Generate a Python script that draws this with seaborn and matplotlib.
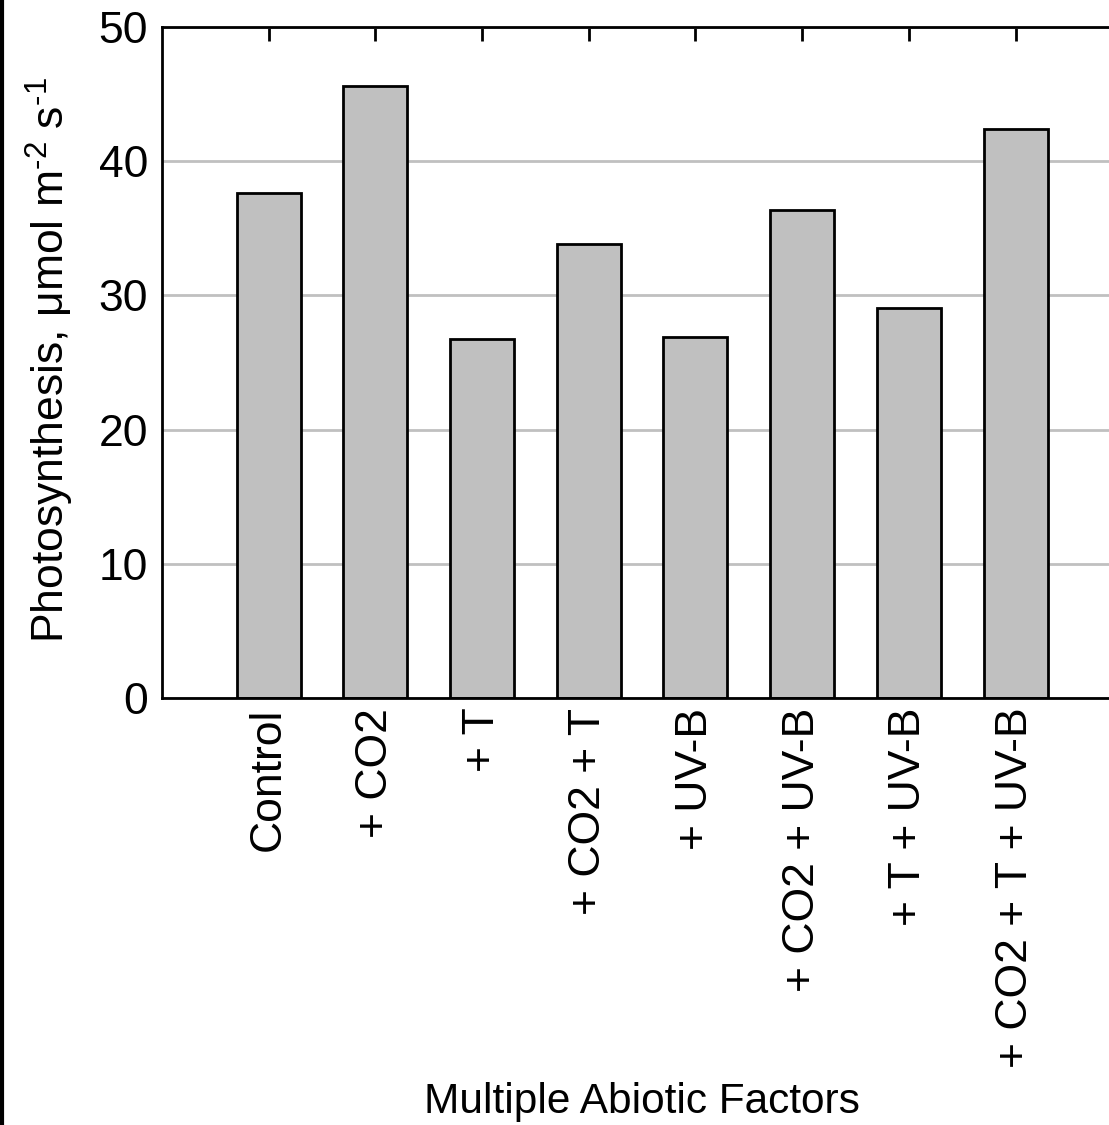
import pandas as pd
import matplotlib
matplotlib.use("Agg")
import matplotlib.pyplot as plt
from matplotlib.lines import Line2D
import seaborn as sns

# data
treatments = ["Control", "+ CO2", "+ T", "+ CO2 + T", "+ UV-B",
              "+ CO2 + UV-B", "+ T + UV-B", "+ CO2 + T + UV-B"]
photosynthesis = [37.65, 45.63, 26.73, 33.8, 26.88, 36.34, 29.04, 42.37]
y_ticks = [0, 10, 20, 30, 40, 50]

df = pd.DataFrame({"Treatment": treatments, "Photosynthesis": photosynthesis})

sns.set_style("white")
plt.rcParams["font.family"] = ["Liberation Sans", "DejaVu Sans"]
plt.rcParams["mathtext.fontset"] = "custom"
plt.rcParams["mathtext.rm"] = "Liberation Sans"
plt.rcParams["mathtext.it"] = "Liberation Sans"
plt.rcParams["mathtext.default"] = "regular"
plt.rcParams["text.color"] = "black"
plt.rcParams["axes.labelcolor"] = "black"
plt.rcParams["xtick.color"] = "black"
plt.rcParams["ytick.color"] = "black"

fig = plt.figure(figsize=(11.09, 11.25), dpi=100)
ax = fig.add_axes([0.146, 0.3796, 0.866, 0.5964])

ax.yaxis.grid(True, color="#c0c0c0", linewidth=2)
ax.set_axisbelow(True)

sns.barplot(data=df, x="Treatment", y="Photosynthesis", order=treatments,
            color="#c0c0c0", saturation=1, edgecolor="black", linewidth=2,
            width=0.6, ax=ax)

ax.set_xlim(-1, len(treatments))
ax.set_ylim(0, 50)
ax.set_yticks(y_ticks)
ax.tick_params(axis="y", direction="in", length=10, width=2, labelsize=32, pad=10)
ax.tick_params(axis="x", direction="in", length=10, width=2, top=True, bottom=False,
               labelsize=32, labelrotation=90, pad=7)
for s in ax.spines.values():
    s.set_linewidth(2)
    s.set_color("black")

ax.set_xlabel("Multiple Abiotic Factors", fontsize=30.5, va="center")
ax.xaxis.set_label_coords(0.5, -0.602)
ax.set_ylabel(r"Photosynthesis, μmol m$^{\text{-2}}$ s$^{\text{-1}}$", fontsize=32, va="center")
ax.yaxis.set_label_coords(-0.117, 0.504)

# left border of the original frame
fig.add_artist(Line2D([0.0015, 0.0015], [0, 1], color="black", linewidth=3))

fig.savefig("out.png", dpi=100)
